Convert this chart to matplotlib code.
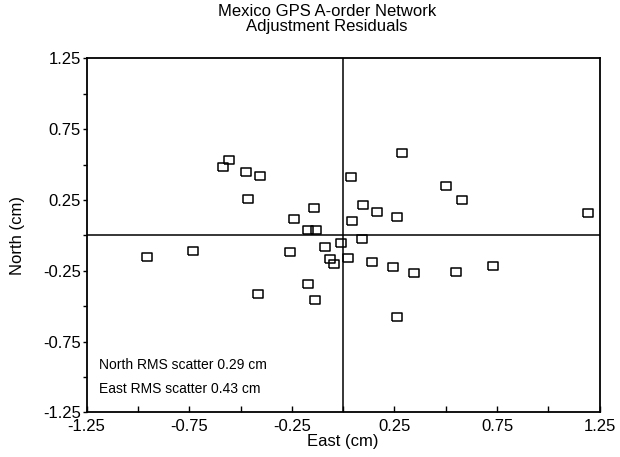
import numpy as np
import matplotlib.pyplot as plt
from matplotlib.ticker import MultipleLocator

plt.rcParams['font.family'] = ['Liberation Sans', 'DejaVu Sans']
plt.rcParams['axes.unicode_minus'] = False

# station residuals, cm
east = [-0.955, -0.730, -0.587, -0.555, -0.474, -0.405, -0.464, -0.417,
        -0.238, -0.259, -0.144, -0.170, -0.133, -0.170, -0.137, -0.090,
        -0.064, -0.045, -0.012, 0.023, 0.037, 0.044, 0.096, 0.094,
        0.142, 0.165, 0.264, 0.285, 0.241, 0.261, 0.344, 0.502,
        0.577, 0.550, 0.731, 1.194]
north = [-0.151, -0.109, 0.480, 0.530, 0.447, 0.417, 0.254, -0.412,
         0.115, -0.120, 0.195, 0.035, 0.035, -0.342, -0.455, -0.083,
         -0.169, -0.205, -0.054, -0.162, 0.412, 0.103, 0.214, -0.026,
         -0.186, 0.162, 0.131, 0.583, -0.222, -0.579, -0.264, 0.348,
         0.247, -0.257, -0.217, 0.155]

ticks = [-1.25, -0.75, -0.25, 0.25, 0.75, 1.25]
notes = ["North RMS scatter 0.29 cm", "East RMS scatter 0.43 cm"]

fig = plt.figure(figsize=(6.2, 4.57), dpi=100)
ax = fig.add_axes([0.1398, 0.0978, 0.8273, 0.7746])

# open rectangles, a bit wider than tall
box = [(-1.3, -1.0), (1.3, -1.0), (1.3, 1.0), (-1.3, 1.0), (-1.3, -1.0)]
ax.plot(east, north, linestyle='none', marker=box, markersize=7,
        markerfacecolor='none', markeredgecolor='black', markeredgewidth=1.1)

ax.axhline(0, color='black', lw=1.1)
ax.axvline(0, color='black', lw=1.1)

ax.set_xlim(-1.25, 1.25)
ax.set_ylim(-1.25, 1.25)
ax.set_xticks(ticks)
ax.set_yticks(ticks)
ax.xaxis.set_minor_locator(MultipleLocator(0.25))
ax.yaxis.set_minor_locator(MultipleLocator(0.25))
ax.tick_params(axis='x', which='both', direction='in', length=4, width=1,
               labelsize=12, pad=5)
ax.tick_params(axis='y', which='both', direction='out', length=3, width=1,
               labelsize=12, pad=1)
for s in ax.spines.values():
    s.set_linewidth(1.3)

ax.set_xlabel("East (cm)", fontsize=12, labelpad=0)
ax.set_ylabel("North (cm)", fontsize=12, labelpad=13)

fig.text(0.527, 1 - 12 / 457, "Mexico GPS A-order Network",
         ha='center', va='center', fontsize=12)
fig.text(0.527, 1 - 26 / 457, "Adjustment Residuals",
         ha='center', va='center', fontsize=12)

ax.text(0.025, 0.134, notes[0], transform=ax.transAxes, fontsize=10, va='center')
ax.text(0.025, 0.066, notes[1], transform=ax.transAxes, fontsize=10, va='center')

plt.savefig("out.png", dpi=100)
